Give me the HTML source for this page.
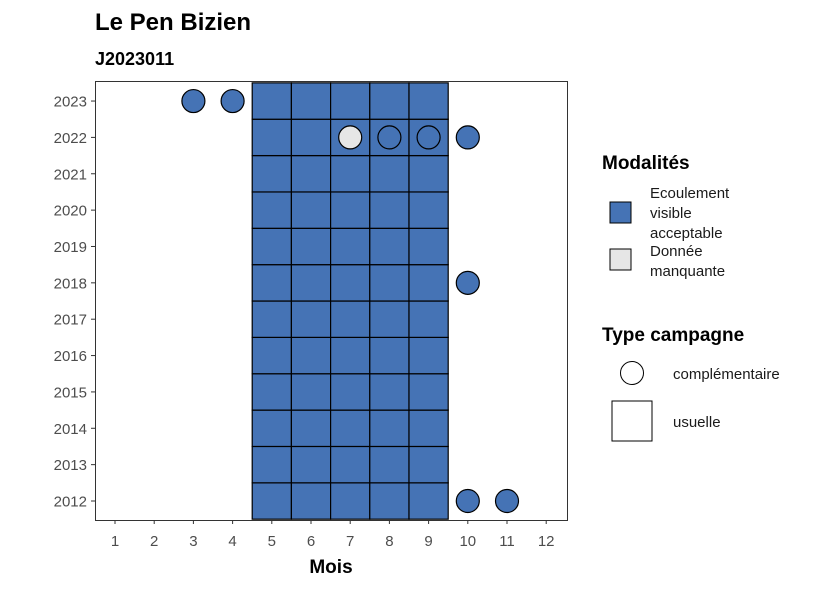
<!DOCTYPE html>
<html><head><meta charset="utf-8"><style>
body{margin:0;background:#fff;font-family:"Liberation Sans",sans-serif}
</style></head><body>
<svg id="c" width="826" height="590" style="display:block">
<text x="95" y="30" font-size="24" font-weight="bold">Le Pen Bizien</text>
<text x="95" y="65" font-size="18" font-weight="bold">J2023011</text>
<g id="tiles"></g>
<g id="pts"></g>
<rect x="95.5" y="81.5" width="472" height="439" fill="none" stroke="#333" stroke-width="1"/>
<g id="xt"></g>
<g id="yt"></g>
<text x="331" y="573" font-size="19" font-weight="bold" text-anchor="middle">Mois</text>
<g>
<text x="602" y="169" font-size="19" font-weight="bold">Modalités</text>
<rect x="610" y="202" width="21" height="21" fill="#4573b5" stroke="#000"/>
<text font-size="15" fill="#1a1a1a"><tspan x="650" y="198">Ecoulement</tspan><tspan x="650" y="218">visible</tspan><tspan x="650" y="238">acceptable</tspan></text>
<rect x="610" y="249" width="21" height="21" fill="#e6e6e6" stroke="#000"/>
<text font-size="15" fill="#1a1a1a"><tspan x="650" y="256">Donnée</tspan><tspan x="650" y="276">manquante</tspan></text>
<text x="602" y="341" font-size="19" font-weight="bold">Type campagne</text>
<circle cx="632" cy="373" r="11.5" fill="#fff" stroke="#000"/>
<text x="673" y="379" font-size="15" fill="#1a1a1a">complémentaire</text>
<rect x="612" y="401" width="40" height="40" fill="#fff" stroke="#000"/>
<text x="673" y="427" font-size="15" fill="#1a1a1a">usuelle</text>
</g>
</svg>
<script>
const months=[1,2,3,4,5,6,7,8,9,10,11,12];
const years=[2012,2013,2014,2015,2016,2017,2018,2019,2020,2021,2022,2023];
const tileMonths=[5,6,7,8,9];
const tileYears=[2012,2013,2014,2015,2016,2017,2018,2019,2020,2021,2022,2023];
const pointMonths=[3,4,7,8,9,10,10,10,11];
const pointYears=[2023,2023,2022,2022,2022,2022,2018,2012,2012];
const pointTypes=["ok","ok","na","ok","ok","ok","ok","ok","ok"];
const NS="http://www.w3.org/2000/svg";
const STEP=39.2;
const xs=m=>115+(m-1)*STEP;
const ys=y=>501-(y-2012)*36.36;
const col={ok:"#4573b5",na:"#e6e6e6"};
function mk(t,a,p){const e=document.createElementNS(NS,t);for(const k in a)e.setAttribute(k,a[k]);p.appendChild(e);return e;}
const tg=document.getElementById('tiles');
tileMonths.forEach(m=>tileYears.forEach(y=>{
 const r=mk('rect',{x:xs(m)-STEP/2,y:ys(y)-18.18,width:STEP,height:36.36,fill:"#4573b5",stroke:"#000","stroke-width":1.2},tg);
 
 
}));
const pg=document.getElementById('pts');
pointMonths.forEach((m,i)=>{
 const c=mk('circle',{cx:xs(m),cy:ys(pointYears[i]),r:11.5,fill:col[pointTypes[i]],stroke:"#000","stroke-width":1.2},pg);
 
 
});
const xt=document.getElementById('xt');
months.forEach(m=>{
 mk('line',{x1:xs(m),x2:xs(m),y1:520,y2:524,stroke:"#333"},xt);
 const t=mk('text',{x:xs(m),y:546,"font-size":15,fill:"#4d4d4d","text-anchor":"middle"},xt);
 t.textContent=m;
 
 
});
const yt=document.getElementById('yt');
years.forEach(y=>{
 mk('line',{x1:91,x2:95,y1:ys(y),y2:ys(y),stroke:"#333"},yt);
 const t=mk('text',{x:87,y:ys(y)+5.5,"font-size":15,fill:"#4d4d4d","text-anchor":"end"},yt);
 t.textContent=y;
 
 
});
</script>
</body></html>
